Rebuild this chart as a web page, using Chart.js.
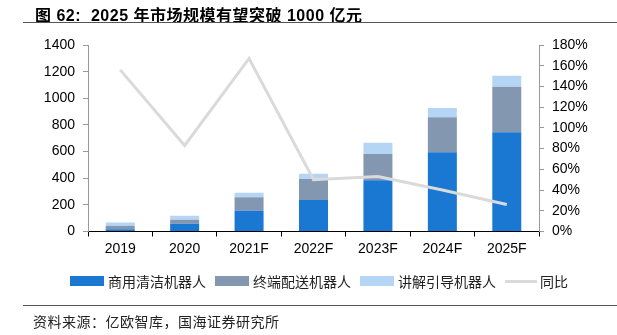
<!DOCTYPE html>
<html>
<head>
<meta charset="utf-8">
<script src="https://cdn.jsdelivr.net/npm/chart.js@4/dist/chart.umd.min.js"></script>
<style>
  html, body { margin: 0; padding: 0; background: #fff; }
  #page { position: relative; width: 617px; height: 335px; overflow: hidden; }
  #chart { position: absolute; left: 0; top: 0; }
  .title { position: absolute; left: 35px; top: 2px; font: bold 16px "Liberation Sans", "Noto Sans CJK SC", sans-serif; color: #000; white-space: nowrap; letter-spacing: 0.5px; }
  .rule { position: absolute; height: 0; border-top: 1.3px solid #555; }
  .legend { position: absolute; top: 271px; left: 70px; display: flex; align-items: center; font: 14px "Noto Sans CJK SC", sans-serif; color: #222; white-space: nowrap; }
  .legend .it { display: flex; align-items: center; margin-right: 9px; }
  .legend .sw { width: 34px; height: 10px; margin-right: 4px; }
  .legend .ln { width: 32px; height: 3px; margin-right: 3px; }
  .source { position: absolute; left: 33px; top: 311px; font: 14px "Noto Sans CJK SC", sans-serif; color: #222; white-space: nowrap; letter-spacing: 0.5px; }
</style>
</head>
<body>
<div id="page">
  <canvas id="chart" width="617" height="335"></canvas>
  <div class="title">图 62:&nbsp; 2025 年市场规模有望突破 1000 亿元</div>
  <div class="rule" style="left:23px; width:594px; top:22px;"></div>
  <div class="legend" id="legend"></div>
  <div class="rule" style="left:23px; width:594px; top:305px;"></div>
  <div class="source">资料来源：亿欧智库，国海证券研究所</div>
</div>
<script>
// 数据（亿元 / 同比 %）
const years = ["2019", "2020", "2021F", "2022F", "2023F", "2024F", "2025F"];
const cleaning = [17, 58, 156, 236, 384, 594, 745];   // 商用清洁机器人
const delivery = [26, 30, 102, 158, 198, 264, 341];   // 终端配送机器人
const guide = [25, 30, 33, 40, 85, 70, 83];           // 讲解引导机器人
const yoy = [156, 83, 167, 50, 53, 40, 26];           // 同比 (%)

const seriesNames = ["商用清洁机器人", "终端配送机器人", "讲解引导机器人", "同比"];
const colors = ["#1A78D2", "#8497B0", "#B5D5F5", "#DADADA"];

const tickFont = { family: "Liberation Sans", size: 14 };

const bar = (label, data, color) => ({
  type: "bar", label, data, backgroundColor: color, borderWidth: 0,
  yAxisID: "y", stack: "s", order: 1,
  barPercentage: 0.45, categoryPercentage: 1,
});

new Chart(document.getElementById("chart"), {
  data: {
    labels: years,
    datasets: [
      {
        type: "line", label: seriesNames[3], data: yoy, yAxisID: "y1", order: 0,
        borderColor: colors[3], borderWidth: 3, pointRadius: 0, tension: 0, fill: false,
      },
      bar(seriesNames[0], cleaning, colors[0]),
      bar(seriesNames[1], delivery, colors[1]),
      bar(seriesNames[2], guide, colors[2]),
    ],
  },
  options: {
    responsive: false,
    animation: false,
    layout: { padding: { top: 45, bottom: 75.5, left: 0, right: 0 } },
    plugins: { legend: { display: false }, tooltip: { enabled: false } },
    scales: {
      x: {
        stacked: true,
        grid: { offset: true, drawOnChartArea: false, tickLength: 5, color: "#000" },
        border: { color: "#000", width: 1 },
        ticks: { font: tickFont, color: "#000", padding: 4, maxRotation: 0 },
        afterFit: (s) => { s.height = 28; },
      },
      y: {
        position: "left", stacked: true, min: 0, max: 1400,
        ticks: { stepSize: 200, font: tickFont, color: "#000", padding: 8, callback: (v) => String(v) },
        grid: { drawOnChartArea: false, tickLength: 5, color: "#999" },
        border: { color: "#999", width: 1 },
        afterFit: (s) => { s.width = 88; },
      },
      y1: {
        position: "right", min: 0, max: 180,
        ticks: { stepSize: 20, font: tickFont, color: "#000", padding: 8, callback: (v) => v + "%" },
        grid: { drawOnChartArea: false, tickLength: 5, color: "#999" },
        border: { color: "#999", width: 1 },
        afterFit: (s) => { s.width = 78; },
      },
    },
  },
});

// 图例
const lg = document.getElementById("legend");
seriesNames.forEach((n, i) => {
  const it = document.createElement("div");
  it.className = "it";
  it.innerHTML = `<span class="${i === 3 ? "ln" : "sw"}" style="background:${colors[i]}"></span><span>${n}</span>`;
  lg.appendChild(it);
});
</script>
</body>
</html>
